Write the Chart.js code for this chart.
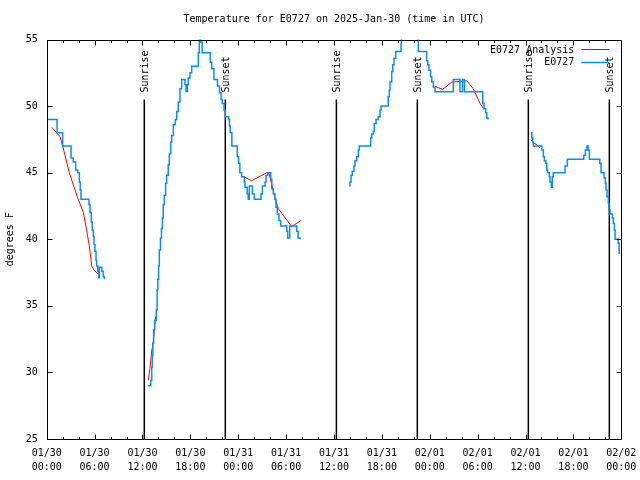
<!DOCTYPE html>
<html>
<head>
<meta charset="utf-8">
<script src="https://cdn.jsdelivr.net/npm/chart.js@4.4.1/dist/chart.umd.min.js"></script>
<style>
  html, body { margin: 0; padding: 0; background: #fff; }
  canvas { display: block; }
</style>
</head>
<body>
<canvas id="tempChart" width="640" height="480"></canvas>
<script>
// Dados (horas desde 01/30 00:00 UTC, graus F); null = falha nos dados
const obsHours = [
    0.04, 1.3, 2.0, 3.05, 3.33, 3.63, 3.88, 4.09, 4.2, 4.3, 5.3, 5.43, 5.59, 5.71, 5.84, 5.93, 6.05, 6.18, 6.26, 6.4, 6.52, 6.6, 6.9, 7.1, 7.22,
    10,
    12.73, 13.03, 13.16, 13.23, 13.31, 13.4, 13.53, 13.73, 13.84, 13.93, 14.02, 14.11, 14.26, 14.38, 14.5, 14.6, 14.73, 14.9, 15.03, 15.23,
    15.36, 15.54, 15.66, 15.87, 16.12, 16.29, 16.49, 16.7, 16.91, 17.33, 17.46, 17.62, 17.74, 17.96, 18.17, 19.0, 19.12, 19.3, 19.48, 20.5,
    20.68, 20.95, 21.4, 21.65, 21.85, 22.0, 22.22, 22.38, 22.8, 22.9, 23.0, 23.2, 23.88, 24.05, 24.2, 24.42, 24.76, 24.85, 25.12, 25.26,
    25.39, 25.77, 26.02, 26.85, 27.02, 27.37, 27.48, 27.69, 28.07, 28.2, 28.4, 28.6, 28.73, 28.9, 29.1, 29.32, 30.08, 30.2, 30.45, 31.33,
    31.5, 31.75,
    34,
    37.92, 38.0, 38.13, 38.3, 38.5, 38.63, 38.85, 39.05, 39.17, 40.6, 40.73, 40.93, 41.05, 41.27, 41.55, 41.77, 41.9, 42.8, 42.93, 43.02,
    43.23, 43.36, 43.52, 43.73, 44.4, 44.45, 45.0, 45.6, 46.0, 46.44, 46.57, 47.6, 47.75, 47.9, 48.1, 48.25, 48.45, 48.66, 50.95, 51.78,
    52.1, 52.35, 54.64, 54.8, 55.01, 55.14, 55.3,
    58,
    60.69, 60.78, 60.9, 60.98, 62.05, 62.23, 62.36, 62.53, 62.66, 62.78, 62.98, 63.07, 63.23, 63.36, 63.48, 64.95, 65.24, 67.3, 67.5, 67.7,
    67.85, 68.0, 69.3, 69.46, 69.84, 70.0, 70.09, 70.21, 70.38, 70.46, 70.59, 70.88, 71.0, 71.13, 71.22, 71.6, 71.73
];
const obsTempF = [
    49, 48, 47, 46.1, 45.8, 45.2, 45.0, 44.3, 43.7, 43.0, 42.6, 42.0, 41.3, 40.7, 40.2, 39.6, 39.1, 38.4, 38.0, 37.6, 37.1, 37.9, 37.6, 37.2, 37.0,
    null,
    29.0, 29.4, 30.4, 31.3, 32.2, 33.2, 33.9, 34.7, 36.2, 37.0, 38.0, 39.2, 40.1, 40.8, 41.6, 42.6, 43.3, 44.2, 44.8, 45.6,
    46.4, 47.3, 47.8, 48.6, 49.0, 49.6, 50.3, 51.3, 52.0, 51.6, 51.1, 51.6, 52.1, 52.5, 53.0, 54.0, 55.6, 54.8, 54.0, 53.3,
    52.8, 52.0, 51.5, 51.0, 50.5, 50.2, 49.7, 49.2, 49.0, 48.5, 48.0, 47.0, 46.2, 45.7, 45.0, 44.7, 44.3, 43.9, 43.4, 43.0,
    44.0, 43.4, 43.0, 43.4, 44.0, 44.3, 44.8, 45.0, 44.5, 43.8, 43.4, 43.0, 42.4, 41.9, 41.4, 41.0, 40.6, 40.1, 41.0, 40.6,
    40.1, 40.0,
    null,
    44.0, 44.3, 44.8, 45.1, 45.5, 45.9, 46.2, 46.7, 47.0, 47.6, 47.9, 48.1, 48.7, 49.0, 49.2, 49.7, 50.0, 50.7, 51.2, 51.8,
    52.6, 53.1, 53.6, 54.1, 54.7, 55.6, 56.3, 56.8, 56.0, 55.2, 54.1, 53.4, 53.1, 52.7, 52.2, 51.8, 51.4, 51.07, 52.0, 51.07,
    52.0, 51.07, 50.2, 49.8, 49.5, 49.1, 49.0,
    null,
    48.0, 47.65, 47.3, 47.0, 46.7, 46.2, 45.9, 45.7, 45.2, 45.0, 44.7, 44.3, 43.9, 44.7, 45.0, 45.5, 46.0, 46.3, 46.7, 47.0,
    46.7, 46.0, 45.7, 45.0, 44.6, 44.2, 43.7, 43.2, 42.7, 42.2, 41.9, 41.6, 41.2, 40.7, 40.0, 39.7, 38.9
];

const anaHours = [
    0.66, 1.67, 2.0, 2.83, 3.55, 3.83, 4.59, 5.0, 5.34, 5.64, 5.96, 6.68,
    10,
    12.73, 12.94, 13.16, 13.36, 13.57, 13.66,
    20,
    24.64, 25.69, 27.57, 27.86, 28.61, 29.02, 30.7, 31.83,
    40,
    48.6, 49.6, 50.75, 52.65, 53.45, 54.3, 54.75,
    58,
    60.69, 60.98, 61.4, 61.8
];
const anaTempF = [
    48.4, 47.7, 47.0, 45.0, 43.7, 43.2, 42.0, 40.7, 39.5, 38.0, 37.65, 37.3,
    null,
    29.4, 30.3, 31.6, 32.3, 33.8, 34.2,
    null,
    44.7, 44.4, 45.0, 44.95, 43.1, 42.3, 40.95, 41.4,
    null,
    51.5, 51.25, 51.8, 51.9, 51.3, 50.2, 49.8,
    null,
    47.45, 47.25, 47.1, 46.86
];

// Nascer / pôr do sol (horas)
const sunHours = [12.23, 22.38, 36.3, 46.44, 60.35, 70.5];
const sunLabels = ['Sunrise', 'Sunset', 'Sunrise', 'Sunset', 'Sunrise', 'Sunset'];

// Rótulos do eixo x (a cada 6 h)
const xTickDays = ['01/30', '01/30', '01/30', '01/30', '01/31', '01/31', '01/31', '01/31', '02/01', '02/01', '02/01', '02/01', '02/02'];
const xTickClock = ['00:00', '06:00', '12:00', '18:00', '00:00', '06:00', '12:00', '18:00', '00:00', '06:00', '12:00', '18:00', '00:00'];

const seriesNames = ['E0727 Analysis', 'E0727'];
const titleText = 'Temperature for E0727 on 2025-Jan-30 (time in UTC)';
const yAxisTitle = 'degrees F';

const FONT = '"DejaVu Sans Mono", monospace';
const BLUE = '#0a8cff';
const RED = '#ff0000';

function toPoints(hours, temps) {
    return hours.map((h, i) => ({ x: h, y: temps[i] }));
}

const decorPlugin = {
    id: 'decor',
    beforeDraw(chart) {
        const ctx = chart.ctx;
        ctx.save();
        ctx.fillStyle = '#fff';
        ctx.fillRect(0, 0, chart.width, chart.height);
        ctx.restore();
    },
    beforeDatasetsDraw(chart) {
        const ctx = chart.ctx;
        const area = chart.chartArea;
        const xs = chart.scales.x;
        ctx.save();
        ctx.strokeStyle = '#000';
        ctx.lineWidth = 1.5;
        ctx.fillStyle = '#000';
        ctx.font = '10px ' + FONT;
        sunHours.forEach((h, i) => {
            const px = xs.getPixelForValue(h);
            ctx.beginPath();
            ctx.moveTo(px, area.top + 60);
            ctx.lineTo(px, area.bottom);
            ctx.stroke();
            ctx.save();
            ctx.translate(px + 1, area.top + 53);
            ctx.rotate(-Math.PI / 2);
            ctx.textAlign = 'left';
            ctx.textBaseline = 'middle';
            ctx.fillText(sunLabels[i], 0, 0);
            ctx.restore();
        });
        ctx.restore();
    },
    afterDatasetsDraw(chart) {
        const ctx = chart.ctx;
        const area = chart.chartArea;
        const xs = chart.scales.x;
        const ys = chart.scales.y;
        const L = Math.round(area.left) + 0.5;
        const R = Math.round(area.right) + 0.5;
        const T = Math.round(area.top) + 0.5;
        const B = Math.round(area.bottom) + 0.5;
        ctx.save();
        ctx.strokeStyle = '#000';
        ctx.lineWidth = 1;
        ctx.strokeRect(L, T, R - L, B - T);

        // marcas para dentro
        ctx.beginPath();
        xs.ticks.forEach(t => {
            const px = Math.round(xs.getPixelForValue(t.value)) + 0.5;
            const len = t.value % 6 === 0 ? 5 : 2.5;
            ctx.moveTo(px, B); ctx.lineTo(px, B - len);
            ctx.moveTo(px, T); ctx.lineTo(px, T + len);
        });
        ys.ticks.forEach(t => {
            const py = Math.round(ys.getPixelForValue(t.value)) + 0.5;
            ctx.moveTo(L, py); ctx.lineTo(L + 5, py);
            ctx.moveTo(R, py); ctx.lineTo(R - 5, py);
        });
        ctx.stroke();

        // título
        ctx.fillStyle = '#000';
        ctx.font = '10px ' + FONT;
        ctx.textAlign = 'center';
        ctx.textBaseline = 'middle';
        ctx.fillText(titleText, (area.left + area.right) / 2, 19);

        // título do eixo y
        ctx.save();
        ctx.translate(10, (area.top + area.bottom) / 2);
        ctx.rotate(-Math.PI / 2);
        ctx.fillText(yAxisTitle, 0, 0);
        ctx.restore();

        // legenda
        const colors = [RED, BLUE];
        const widths = [1, 1.5];
        seriesNames.forEach((name, i) => {
            const y = area.top + 10.5 + i * 12.5;
            ctx.textAlign = 'right';
            ctx.fillStyle = '#000';
            ctx.fillText(name, area.right - 47, y);
            ctx.strokeStyle = colors[i];
            ctx.lineWidth = widths[i];
            ctx.beginPath();
            ctx.moveTo(area.right - 40, Math.round(y) - 0.5);
            ctx.lineTo(area.right - 12, Math.round(y) - 0.5);
            ctx.stroke();
        });
        ctx.restore();
    }
};

const tickFont = { family: FONT, size: 10, lineHeight: 1.4 };

new Chart(document.getElementById('tempChart').getContext('2d'), {
    type: 'line',
    data: {
        datasets: [
            {
                label: seriesNames[1],
                data: toPoints(obsHours, obsTempF),
                borderColor: BLUE,
                borderWidth: 1.5,
                pointRadius: 0,
                stepped: 'before',
                spanGaps: false,
                fill: false
            },
            {
                label: seriesNames[0],
                data: toPoints(anaHours, anaTempF),
                borderColor: RED,
                borderWidth: 1,
                pointRadius: 0,
                tension: 0,
                spanGaps: false,
                fill: false
            }
        ]
    },
    options: {
        responsive: false,
        animation: false,
        events: [],
        layout: { padding: { left: 0, right: 18.7, top: 39.5, bottom: 0 } },
        plugins: {
            legend: { display: false },
            title: { display: false },
            tooltip: { enabled: false }
        },
        scales: {
            x: {
                type: 'linear',
                min: 0,
                max: 72,
                grid: { display: false, drawTicks: false },
                border: { display: false },
                ticks: {
                    stepSize: 2,
                    autoSkip: false,
                    maxRotation: 0,
                    minRotation: 0,
                    padding: 7,
                    color: '#000',
                    font: tickFont,
                    callback: function(value) {
                        if (value % 6 !== 0) return '';
                        const i = value / 6;
                        return [xTickDays[i], xTickClock[i]];
                    }
                },
                afterFit: function(scale) {
                    scale.height = 41;
                    scale.paddingLeft = 0;
                    scale.paddingRight = 0;
                }
            },
            y: {
                min: 25,
                max: 55,
                grid: { display: false, drawTicks: false },
                border: { display: false },
                ticks: {
                    stepSize: 5,
                    padding: 9,
                    color: '#000',
                    font: tickFont
                },
                afterFit: function(scale) {
                    scale.width = 46.7;
                    scale.paddingTop = 0;
                    scale.paddingBottom = 0;
                }
            }
        }
    },
    plugins: [decorPlugin]
});
</script>
</body>
</html>
